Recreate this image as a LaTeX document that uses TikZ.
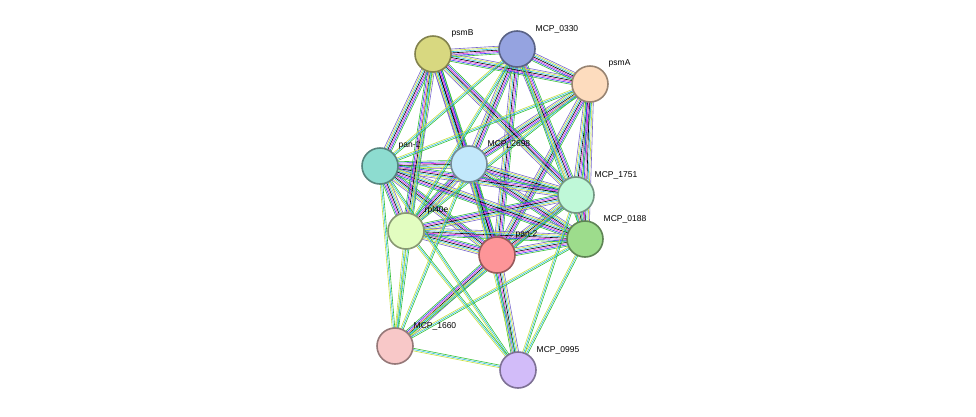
\documentclass[tikz,border=0pt]{standalone}
\usepackage{fontspec}
\setsansfont{Liberation Sans}
\usetikzlibrary{calc}

\definecolor{eGreen}{HTML}{33C033}
\definecolor{eBlue}{HTML}{3344EE}
\definecolor{eMag}{HTML}{DD33DD}
\definecolor{eCyan}{HTML}{33C0E0}
\definecolor{eYel}{HTML}{C8E040}
\definecolor{ePur}{HTML}{7766CC}
\definecolor{cB}{HTML}{D8D880}
\definecolor{c0330}{HTML}{95A3E0}
\definecolor{cA}{HTML}{FDDCBE}
\definecolor{c1}{HTML}{8DDCD0}
\definecolor{c2698}{HTML}{C2E8FB}
\definecolor{c1751}{HTML}{BFF8D8}
\definecolor{crpl}{HTML}{E2FDC0}
\definecolor{c0188}{HTML}{9DDC8C}
\definecolor{c2}{HTML}{FD9598}
\definecolor{c1660}{HTML}{F8C8C8}
\definecolor{c0995}{HTML}{D2BCF9}

\tikzset{
  prot/.style={circle, minimum size=36pt, inner sep=0pt, line width=1.6pt, fill=#1, draw=#1!60!black},
  lbl/.style={font=\sffamily\fontsize{8.5pt}{9pt}\selectfont, label distance=1pt},
  stripe/.style={line width=0.6pt}
}

\begin{document}
\begin{tikzpicture}[x=1pt,y=-1pt]
\useasboundingbox (0,0) rectangle (976,416);

% coordinates of the proteins
\coordinate (psmB) at (433,54);
\coordinate (m0330) at (517,49);
\coordinate (psmA) at (590,84);
\coordinate (pan1) at (380,166);
\coordinate (m2698) at (469,164);
\coordinate (m1751) at (576,195);
\coordinate (rpl) at (406,231);
\coordinate (m0188) at (585,239);
\coordinate (pan2) at (497,255);
\coordinate (m1660) at (395,346);
\coordinate (m0995) at (518,370);

% rich evidence edges
\foreach \a/\b in {pan2/psmB,pan2/m0330,pan2/psmA,pan2/pan1,pan2/m2698,pan2/m1751,pan2/rpl,pan2/m0188,pan2/m1660,pan2/m0995,
  m2698/psmB,m2698/m0330,m2698/psmA,m2698/pan1,m2698/m1751,m2698/rpl,m2698/m0188,
  m1751/psmB,m1751/m0330,m1751/psmA,m1751/pan1,m1751/rpl,m1751/m0188,
  pan1/psmB,pan1/rpl,pan1/m0188,psmB/m0330,psmB/psmA,psmB/rpl,m0330/psmA,psmA/m0188,rpl/m0188}
  \foreach \c/\o in {eGreen/-3.9pt,eBlue/-2.6pt,eMag/-1.3pt,black/0pt,eCyan/1.3pt,eYel/2.6pt,ePur/3.9pt}
    \draw[stripe,draw=\c] ($(\a)!\o!90:(\b)$) -- ($(\b)!\o!-90:(\a)$);

% sparse evidence edges
\foreach \a/\b in {m1660/pan1,m1660/rpl,m1660/m2698,m1660/m1751,m1660/m0188,m1660/psmB,
  m0995/pan1,m0995/rpl,m0995/m2698,m0995/m1751,m0995/m0188,m0995/m1660,
  pan1/m0330,pan1/psmA,rpl/m0330,rpl/psmA,m0330/m0188}
  \foreach \c/\o in {eGreen/-1.3pt,eCyan/0pt,eYel/1.3pt}
    \draw[stripe,draw=\c] ($(\a)!\o!90:(\b)$) -- ($(\b)!\o!-90:(\a)$);

% proteins
\node[prot=cB, label={[lbl]40:psmB}] (nB) at (psmB) {};
\node[prot=c0330, label={[lbl]40:MCP\_0330}] (n0330) at (m0330) {};
\node[prot=cA, label={[lbl]40:psmA}] (nA) at (psmA) {};
\node[prot=c1, label={[lbl]40:pan-1}] (n1) at (pan1) {};
\node[prot=c2698, label={[lbl]40:MCP\_2698}] (n2698) at (m2698) {};
\node[prot=c1751, label={[lbl]40:MCP\_1751}] (n1751) at (m1751) {};
\node[prot=crpl, label={[lbl]40:rpl40e}] (nrpl) at (rpl) {};
\node[prot=c0188, label={[lbl]40:MCP\_0188}] (n0188) at (m0188) {};
\node[prot=c2, label={[lbl]40:pan-2}] (n2) at (pan2) {};
\node[prot=c1660, label={[lbl]40:MCP\_1660}] (n1660) at (m1660) {};
\node[prot=c0995, label={[lbl]40:MCP\_0995}] (n0995) at (m0995) {};
\end{tikzpicture}
\end{document}
